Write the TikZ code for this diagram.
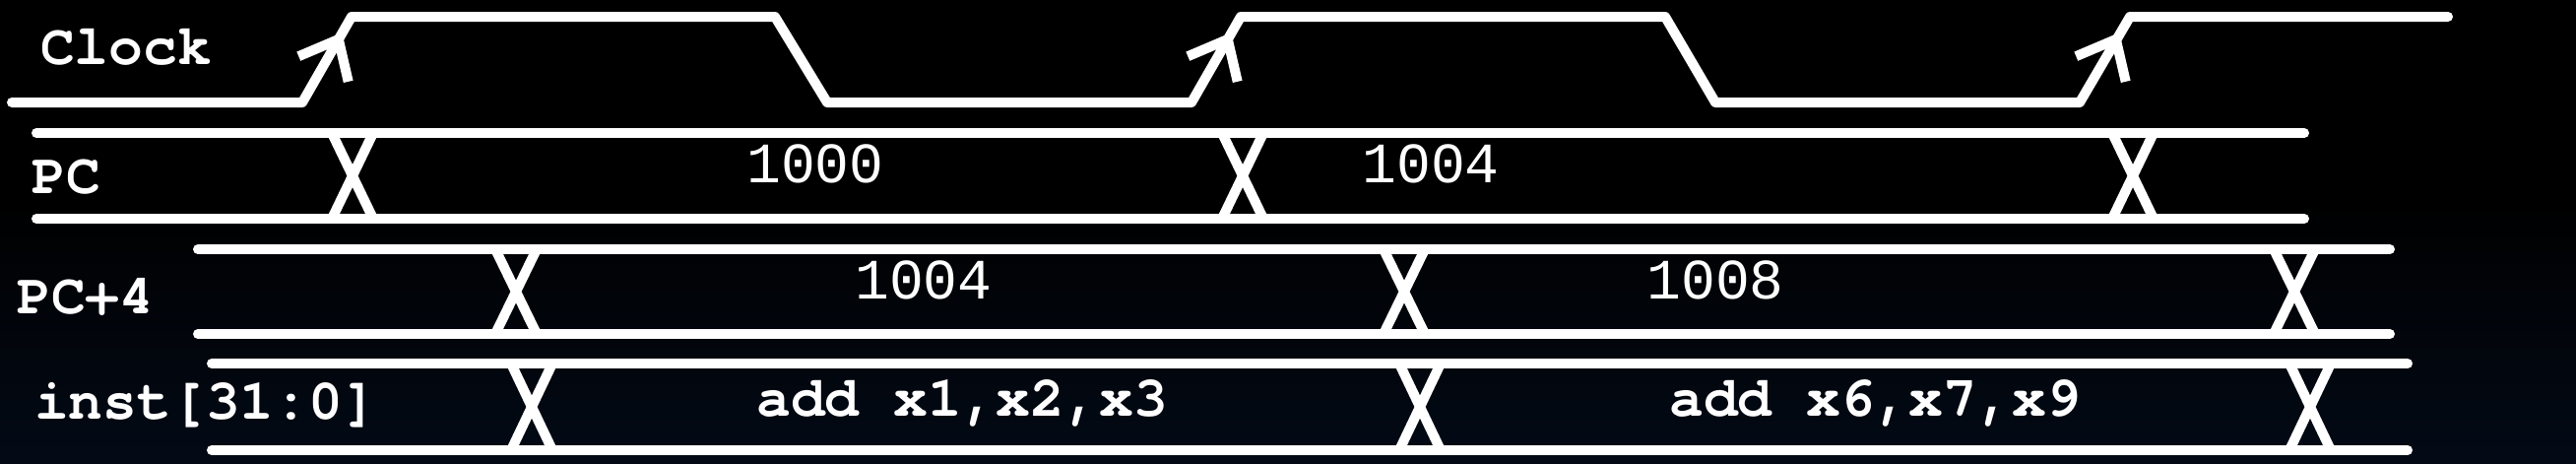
\documentclass[tikz,border=0pt]{standalone}
\usepackage{fontspec}
\usepackage{tikz}
\usetikzlibrary{calc}
\newfontfamily\sigfont{texgyrecursor-bold.otf}
\newfontfamily\valfont{Liberation Mono}
\definecolor{bgnavy}{RGB}{3,10,22}

\begin{document}
\begin{tikzpicture}[x=1pt, y=-1pt,
  wave/.style={white, line width=10pt, line cap=round, line join=round},
  barb/.style={white, line width=10pt},
  sig/.style={white, font=\sigfont\fontsize{58}{58}\selectfont, inner sep=0pt, anchor=base},
  val/.style={white, font=\valfont\fontsize{58}{58}\selectfont, inner sep=0pt, anchor=base}]
 \fill[black] (0,0) rectangle (2616,471);
 \shade[top color=black, bottom color=bgnavy] (0,200) rectangle (2616,471);
 \useasboundingbox (0,0) rectangle (2616,471);

 % clock
 \draw[wave] (12,104) -- (307,104) -- (357,17) -- (787,17) -- (840,104)
   -- (1210,104) -- (1260,17) -- (1691,17) -- (1742,104)
   -- (2112,104) -- (2163,17) -- (2486,17);
 \foreach \r in {307, 1210, 2112} {
   \coordinate (tip) at ($(\r,104)!0.736!(\r+50,17)$);
   \draw[barb] ($(tip)+(157:44)$) -- (tip) -- ($(tip)+(77:44)$);
 }

 % buses: top, bottom, start, end, crossings
 \foreach \t/\bo/\a/\b/\xa/\xb/\xc in {135/222/37/2340/358/1262/2166,
                                       253/339/201/2427/524/1426/2330,
                                       369/457/215/2445/540/1442/2346} {
   \draw[wave] (\a,\t) -- (\b,\t);
   \draw[wave] (\a,\bo) -- (\b,\bo);
   \foreach \c in {\xa,\xb,\xc}
     \draw[wave, line cap=butt] (\c-21,\t) -- (\c+21,\bo) (\c-21,\bo) -- (\c+21,\t);
 }

 \node[sig] (clk) at (128,65) {Clock};
 \node[sig] (pc) at (67,196) {PC};
 \node[sig] (pcfour) at (87,318) {PC+4};
 \node[sig] (inst) at (209,425) {inst[31:0]};

 \node[val] (pcA) at (828,185) {1000};
 \node[val] (pcB) at (1453,185) {1004};
 \node[val] (npcA) at (938,303) {1004};
 \node[val] (npcB) at (1742,303) {1008};
 \node[sig] (instA) at (977,422) {add x1,x2,x3};
 \node[sig] (instB) at (1904,422) {add x6,x7,x9};
\end{tikzpicture}
\end{document}
